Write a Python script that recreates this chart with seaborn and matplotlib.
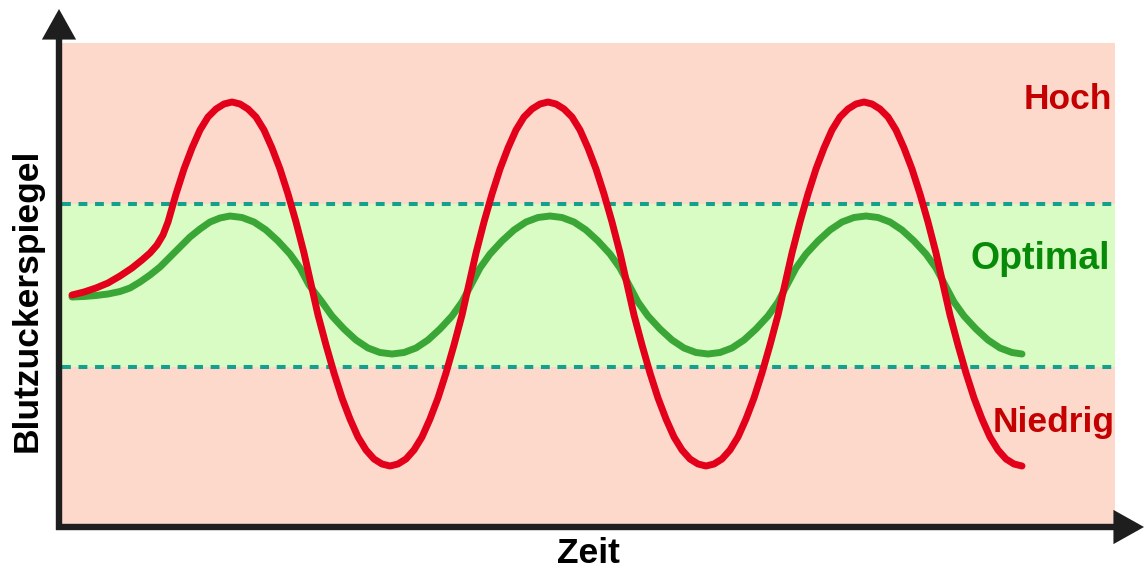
import matplotlib
matplotlib.use("Agg")
import matplotlib.pyplot as plt
import seaborn as sns
import pandas as pd

# ---- data (time in arbitrary units, blood sugar level in arbitrary units) ----
red_t = [1.0, 2.2, 3.4, 4.6, 5.8, 7.0, 8.0, 8.8, 9.5, 10.1, 10.6,
         11.4, 12.2, 13.0, 13.8, 14.6, 15.4, 16.2, 17.0, 17.8, 18.6, 19.4, 20.2, 21.0, 21.8, 22.6, 23.4, 24.2, 24.9,
         25.6, 26.4, 27.2, 28.0, 28.8, 29.6, 30.4, 31.2, 32.0, 32.8, 33.6, 34.4, 35.2, 36.0, 36.8, 37.6, 38.4, 39.2, 40.0, 40.7,
         41.4, 42.2, 43.0, 43.8, 44.6, 45.4, 46.2, 47.0, 47.8, 48.6, 49.4, 50.2, 51.0, 51.8, 52.6, 53.4, 54.2, 55.0, 55.8, 56.5,
         57.2, 58.0, 58.8, 59.6, 60.4, 61.2, 62.0, 62.8, 63.6, 64.4, 65.2, 66.0, 66.8, 67.6, 68.4, 69.2, 70.0, 70.8, 71.6, 72.3,
         73.0, 73.8, 74.6, 75.4, 76.2, 77.0, 77.8, 78.6, 79.4, 80.2, 81.0, 81.8, 82.6, 83.4, 84.2, 85.0, 85.8, 86.6, 87.4, 88.1,
         88.8, 89.6, 90.4, 91.2, 92.0, 92.8, 93.6, 94.4, 95.2, 96.0]
red_v = [23.0, 23.3, 23.7, 24.2, 24.9, 25.7, 26.5, 27.2, 28.0, 29.0, 30.3,
         33.1, 35.6, 37.7, 39.5, 40.8, 41.6, 42.1, 42.3, 42.1, 41.6, 40.8, 39.5, 37.7, 35.6, 33.1, 30.3, 27.2, 24.1,
         21.0, 18.0, 15.2, 12.7, 10.6, 8.8, 7.5, 6.6, 6.1, 5.9, 6.1, 6.6, 7.5, 8.8, 10.6, 12.7, 15.2, 18.0, 21.0, 24.1,
         27.2, 30.3, 33.1, 35.6, 37.7, 39.5, 40.8, 41.6, 42.1, 42.3, 42.1, 41.6, 40.8, 39.5, 37.7, 35.6, 33.1, 30.3, 27.2, 24.1,
         21.0, 18.0, 15.2, 12.7, 10.6, 8.8, 7.5, 6.6, 6.1, 5.9, 6.1, 6.6, 7.5, 8.8, 10.6, 12.7, 15.2, 18.0, 21.0, 24.1,
         27.2, 30.3, 33.1, 35.6, 37.7, 39.5, 40.8, 41.6, 42.1, 42.3, 42.1, 41.6, 40.8, 39.5, 37.7, 35.6, 33.1, 30.3, 27.2, 24.1,
         21.0, 18.0, 15.2, 12.7, 10.6, 8.8, 7.5, 6.6, 6.1, 5.9]

green_t = [1.0, 2.2, 3.4, 4.6, 5.8, 6.8, 7.8, 8.8, 9.8, 10.8, 11.8, 12.8, 13.8, 14.8, 15.8, 16.8,
           18.0, 19.2, 20.4, 21.6, 22.8, 23.8, 24.7, 26.0, 27.0, 28.2, 29.4, 30.6, 31.8, 33.0, 34.2, 35.4, 36.6, 37.8,
           39.0, 40.0, 40.9, 41.8, 42.8, 44.0, 45.2, 46.4, 47.6, 48.8, 50.0, 51.2, 52.4, 53.6, 54.8, 55.8, 56.7, 57.6,
           58.6, 59.8, 61.0, 62.2, 63.4, 64.6, 65.8, 67.0, 68.2, 69.4, 70.6, 71.6, 72.5, 73.4, 74.4, 75.6, 76.8, 78.0,
           79.2, 80.4, 81.6, 82.8, 84.0, 85.2, 86.4, 87.4, 88.3, 89.2, 90.2, 91.4, 92.6, 93.8, 95.0, 96.0]
green_v = [22.8, 22.85, 22.95, 23.1, 23.35, 23.7, 24.3, 25.0, 25.8, 26.8, 27.8, 28.8, 29.6, 30.3, 30.7, 30.9,
           30.75, 30.3, 29.5, 28.4, 27.1, 25.7, 24.0, 22.3, 20.9, 19.6, 18.5, 17.7, 17.25, 17.1, 17.25, 17.7, 18.5, 19.6,
           20.9, 22.3, 24.0, 25.7, 27.1, 28.4, 29.5, 30.3, 30.75, 30.9, 30.75, 30.3, 29.5, 28.4, 27.1, 25.7, 24.0, 22.3,
           20.9, 19.6, 18.5, 17.7, 17.25, 17.1, 17.25, 17.7, 18.5, 19.6, 20.9, 22.3, 24.0, 25.7, 27.1, 28.4, 29.5, 30.3,
           30.75, 30.9, 30.75, 30.3, 29.5, 28.4, 27.1, 25.7, 24.0, 22.3, 20.9, 19.6, 18.5, 17.7, 17.25, 17.1]

optimal_low = 15.8
optimal_high = 32.1
x_max = 105.3
y_max = 48.2

zone_labels = ["Hoch", "Optimal", "Niedrig"]
x_label = "Zeit"
y_label = "Blutzuckerspiegel"

# ---- styling ----
sns.set_theme(style="white")
plt.rcParams["font.family"] = ["Liberation Sans", "DejaVu Sans"]

PINK = "#fdd9cc"
LIGHTGREEN = "#d9fcc5"
DASH = "#14a08c"
RED = "#e2001a"
GREEN = "#3aa636"
AXIS = "#1e1e1e"

W, H = 1145, 568
fig = plt.figure(figsize=(W / 100, H / 100), dpi=100)
ax = fig.add_axes([62 / W, (H - 525) / H, 1053 / W, 482 / H])
ax.set_facecolor(PINK)

ax.axhspan(optimal_low, optimal_high, color=LIGHTGREEN, lw=0, zorder=0)
for yv in (optimal_low, optimal_high):
    ax.axhline(yv, color=DASH, lw=2.9, dashes=(2.2, 1.9), zorder=1)

df_green = pd.DataFrame({"t": green_t, "v": green_v})
df_red = pd.DataFrame({"t": red_t, "v": red_v})
sns.lineplot(data=df_green, x="t", y="v", ax=ax, color=GREEN, lw=5.0, sort=False,
             estimator=None, solid_capstyle="round", solid_joinstyle="round", zorder=3)
sns.lineplot(data=df_red, x="t", y="v", ax=ax, color=RED, lw=5.0, sort=False,
             estimator=None, solid_capstyle="round", solid_joinstyle="round", zorder=4)

ax.set_xlim(0, x_max)
ax.set_ylim(0, y_max)
ax.set_xticks([])
ax.set_yticks([])
ax.set_xlabel("")
ax.set_ylabel("")
for s in ax.spines.values():
    s.set_visible(False)

# zone labels
ax.text(0.997, 0.863, zone_labels[0], transform=ax.transAxes, ha="right", va="baseline",
        fontsize=25.5, fontweight="bold", color="#c40000")
ax.text(0.995, 0.531, zone_labels[1], transform=ax.transAxes, ha="right", va="baseline",
        fontsize=27, fontweight="bold", color="#078a07")
ax.text(1.0, 0.193, zone_labels[2], transform=ax.transAxes, ha="right", va="baseline",
        fontsize=25.5, fontweight="bold", color="#c40000")

# axes with arrows
arrow = dict(arrowstyle="-|>,head_length=0.75,head_width=0.42", lw=4.6, color=AXIS,
             mutation_scale=20, shrinkA=0, shrinkB=0, capstyle="butt", joinstyle="miter")
fig.add_artist(matplotlib.patches.FancyArrowPatch((59, H - 530), (59, H - 9), transform=None, **arrow))
fig.add_artist(matplotlib.patches.FancyArrowPatch((56, H - 527), (1144, H - 527), transform=None, **arrow))

# axis titles
fig.text(37 / W, (H - 300) / H, y_label, rotation=90, rotation_mode="anchor", ha="center", va="baseline",
         fontsize=25.5, fontweight="bold", color="black")
fig.text(588 / W, (H - 563) / H, x_label, ha="center", va="baseline",
         fontsize=25.5, fontweight="bold", color="black")

fig.savefig("out.png", dpi=100)
